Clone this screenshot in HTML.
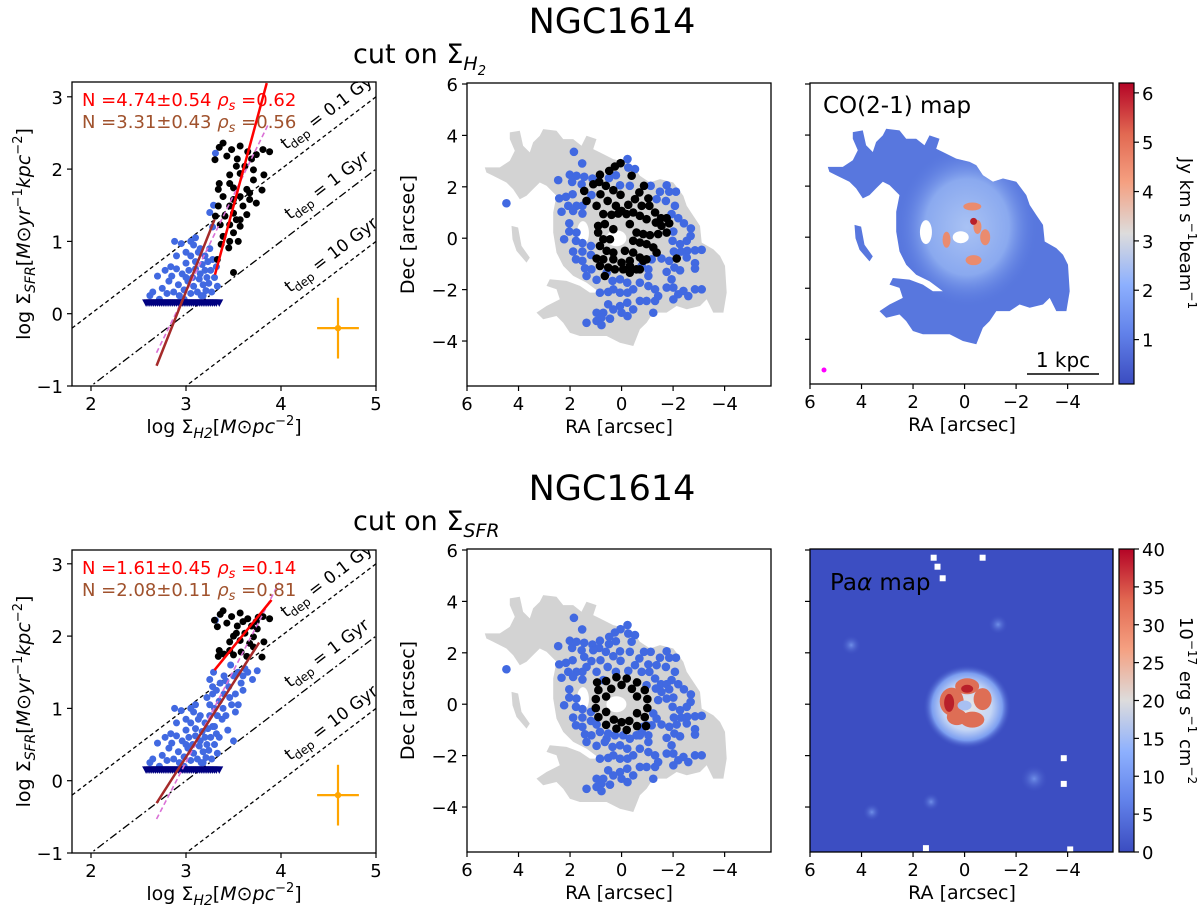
<!DOCTYPE html>
<html><head><meta charset="utf-8">
<style>
html,body{margin:0;padding:0;background:#fff;}
svg{display:block;font-family:"DejaVu Sans","Liberation Sans",sans-serif;}
</style></head>
<body>
<svg id="fig" width="1200" height="913" viewBox="0 0 1200 913" xmlns="http://www.w3.org/2000/svg">
<defs>
<linearGradient id="cw" x1="0" y1="1" x2="0" y2="0">
<stop offset="0" stop-color="#3b4cc0"/><stop offset="0.17" stop-color="#6282ea"/><stop offset="0.33" stop-color="#8db0fe"/><stop offset="0.5" stop-color="#dddcdc"/><stop offset="0.67" stop-color="#f5a081"/><stop offset="0.83" stop-color="#e26952"/><stop offset="1" stop-color="#b40426"/>
</linearGradient>
<radialGradient id="coglow" cx="0.5" cy="0.5" r="0.5">
<stop offset="0" stop-color="#a9c2f4"/><stop offset="0.6" stop-color="#8aa9ef"/><stop offset="1" stop-color="#5a7be0" stop-opacity="0"/>
</radialGradient>
<radialGradient id="paglow" cx="0.5" cy="0.5" r="0.5">
<stop offset="0" stop-color="#e8e6e4"/><stop offset="0.55" stop-color="#c5d6f5"/><stop offset="0.8" stop-color="#7c9ef0"/><stop offset="1" stop-color="#3c4ec2" stop-opacity="0"/>
</radialGradient>
<radialGradient id="pablob" cx="0.5" cy="0.5" r="0.5">
<stop offset="0" stop-color="#6f8fe8"/><stop offset="1" stop-color="#3c4ec2" stop-opacity="0"/>
</radialGradient>
<clipPath id="clipL1"><rect x="72" y="82" width="304" height="304"/></clipPath>
<clipPath id="clipL2"><rect x="72" y="550" width="304" height="303"/></clipPath>
</defs>
<g id="root"></g>
</svg>
<script>
// ---------- data ----------
const tdepLabels = ["0.1 Gyr", "1 Gyr", "10 Gyr"];
const tdepOffsets = [2, 3, 4];
const fitTop = { red:[[3.305,0.54],[3.85,3.19]], brown:[[2.69,-0.72],[3.30,1.30]], magenta:[[2.69,-0.54],[3.87,2.63]] };
const fitBot = { red:[[3.30,1.53],[3.90,2.50]], brown:[[2.69,-0.31],[3.77,1.91]], magenta:[[2.69,-0.53],[3.98,2.74]] };
const annTop = ["N =4.74±0.54 ", "N =3.31±0.43 "];
const annTopRho = ["=0.62", "=0.56"];
const annBot = ["N =1.61±0.45 ", "N =2.08±0.11 "];
const annBotRho = ["=0.14", "=0.81"];
const errBar = [4.6, -0.2, 0.22, 0.42];

const blackTop = [[3.305,2.13],[3.39,2.36],[3.35,2.3],[3.48,2.27],[3.57,2.32],[3.65,2.24],[3.74,2.2],[3.81,2.27],[3.88,2.24],[3.69,2.14],[3.54,2.14],[3.62,2.04],[3.53,2.04],[3.71,1.99],[3.46,1.92],[3.57,1.94],[3.82,1.92],[3.35,1.8],[3.46,1.8],[3.71,1.85],[3.34,1.72],[3.5,1.74],[3.64,1.72],[3.8,1.71],[3.39,1.62],[3.5,1.58],[3.57,1.62],[3.67,1.58],[3.34,1.49],[3.46,1.49],[3.6,1.49],[3.74,1.53],[3.5,1.39],[3.64,1.37],[3.31,1.35],[3.41,1.35],[3.53,1.3],[3.36,1.23],[3.46,1.23],[3.57,1.21],[3.5,1.12],[3.39,1.07],[3.46,1.0],[3.55,1.0],[3.37,0.96],[3.45,0.91],[3.33,0.75],[3.5,0.57],[3.57,1.3],[3.67,1.67],[3.43,2.18]];
const blueTop = [[2.62,0.25],[2.65,0.3],[2.7,0.52],[2.75,0.35],[2.78,0.6],[2.8,0.28],[2.82,0.45],[2.85,0.52],[2.87,0.3],[2.88,1.0],[2.9,0.62],[2.92,0.4],[2.93,0.25],[2.95,0.97],[2.96,0.55],[2.98,0.33],[3.0,0.85],[3.0,0.7],[3.02,0.45],[3.03,0.6],[3.05,0.28],[3.05,0.8],[3.07,0.5],[3.08,0.38],[3.1,0.72],[3.1,0.62],[3.12,0.3],[3.13,0.85],[3.14,0.48],[3.15,0.55],[3.16,0.25],[3.17,0.68],[3.18,0.4],[3.2,0.8],[3.2,0.6],[3.21,0.32],[3.22,0.5],[3.23,0.72],[3.24,0.42],[3.25,0.9],[3.25,1.4],[3.26,0.6],[3.27,0.3],[3.28,0.75],[3.29,1.5],[3.3,0.5],[3.31,2.22],[3.32,0.65],[3.33,0.38],[3.05,1.0],[3.1,1.05],[2.98,0.2],[3.15,0.9],[2.72,0.2],[2.9,0.8],[3.18,0.25],[3.28,1.2],[3.0,0.5],[2.84,0.65],[3.08,0.95]];
const triX = [2.58,2.6,2.62,2.64,2.66,2.68,2.7,2.72,2.74,2.76,2.78,2.8,2.82,2.84,2.86,2.88,2.9,2.92,2.94,2.96,2.98,3.0,3.02,3.04,3.06,3.08,3.1,3.12,3.14,3.16,3.18,3.2,3.22,3.24,3.26,3.28,3.3,3.32,3.35];
const triY = 0.15;
const blueBotExtra = [[3.3,1.0],[3.35,1.1],[3.4,1.2],[3.42,0.9],[3.45,1.3],[3.48,1.05],[3.5,1.45],[3.52,1.2],[3.55,1.5],[3.58,1.35],[3.6,1.45],[3.62,1.55],[3.65,1.5],[3.7,1.4],[3.75,1.52],[3.38,0.85],[3.44,0.7],[3.36,1.35],[3.32,1.25],[3.4,1.45],[3.47,1.6],[3.52,0.95],[3.3,0.75],[3.35,0.6],[3.5,0.55],[3.25,1.05],[3.22,1.15],[3.28,1.3],[3.55,1.05],[3.6,1.25],[3.46,1.15],[3.42,1.38],[3.33,0.9],[3.39,1.0]];
const blackBot = [[3.3,2.22],[3.33,2.13],[3.36,2.3],[3.39,2.35],[3.48,2.27],[3.57,2.32],[3.65,2.24],[3.74,2.2],[3.81,2.27],[3.88,2.24],[3.69,2.14],[3.54,2.14],[3.62,2.04],[3.53,2.04],[3.71,1.99],[3.46,1.92],[3.57,1.94],[3.82,1.92],[3.35,1.8],[3.46,1.8],[3.71,1.85],[3.34,1.72],[3.5,1.74],[3.64,1.72],[3.8,1.71],[3.43,2.18],[3.6,2.2],[3.76,2.26],[3.5,2.0],[3.67,1.9],[3.4,1.75],[3.58,1.78],[3.75,2.1]];

const mapBlackTop = [[0.04,2.92],[0.26,2.79],[0.48,2.62],[0.84,2.47],[1.45,1.84],[0.87,2.19],[0.61,2.04],[0.32,1.87],[0.04,1.69],[-0.39,2.43],[-0.69,1.78],[-0.87,2.04],[-1.04,1.55],[0.82,1.71],[0.54,1.45],[0.22,1.26],[0,1.06],[-0.26,1.30],[-0.52,1.52],[-0.78,1.26],[-1.08,1.26],[-1.30,1.0],[-1.53,0.78],[-1.75,0.78],[-1.85,0.58],[0.97,1.26],[0.71,0.94],[0.39,0.91],[0.13,0.96],[-0.19,0.94],[-0.45,1.0],[-0.71,0.87],[-0.97,0.74],[-1.33,0.61],[-1.55,0.48],[-1.75,0.22],[0.91,0.48],[0.65,0.55],[0.32,0.35],[-0.32,0.55],[-0.58,0.22],[-0.84,0.16],[-1.10,0.12],[-1.42,0.16],[0.91,0.22],[0.71,-0.04],[0.45,-0.04],[-0.45,-0.10],[-0.71,-0.17],[-0.97,-0.23],[-1.23,-0.36],[-1.36,-0.56],[0.84,-0.30],[0.58,-0.49],[0.32,-0.56],[-0.13,-0.49],[-0.45,-0.56],[-0.71,-0.75],[-0.97,-0.82],[0.97,-0.79],[0.71,-0.82],[0.32,-0.82],[0,-0.95],[-0.32,-1.08],[-0.58,-1.21],[-0.84,-0.88],[0.84,-1.08],[0.52,-1.14],[0.26,-1.21],[-0.06,-1.21],[-0.32,-1.34],[0.65,-1.47],[1.10,2.10],[1.36,1.45],[-2.14,-0.79],[-0.32,-0.88],[-0.71,-1.21]];
const mapBlueTop = [[1.85,3.36],[1.53,2.91],[2.46,2.26],[2.01,2.47],[1.75,2.43],[1.45,2.39],[1.13,2.32],[1.92,2.19],[1.55,2.10],[1.17,1.68],[2.42,1.55],[2.16,1.61],[1.90,1.71],[1.75,1.26],[2.07,1.26],[1.52,1.26],[2.33,1.03],[1.88,1.06],[1.52,0.96],[0.49,2.34],[0.22,2.45],[-0.26,2.75],[-0.52,2.69],[-0.23,3.08],[0.06,2.06],[-0.32,2.04],[-1.13,2.04],[-1.75,2.06],[-1.49,1.81],[-1.85,1.81],[-2.11,1.81],[-1.72,1.45],[-1.36,1.52],[-2.07,1.26],[-1.94,0.94],[-2.20,0.78],[-2.42,0.58],[-2.69,0.38],[-2.68,0.09],[-2.53,-0.10],[-3.11,-0.45],[-2.85,-0.47],[-2.55,-0.49],[-2.31,-0.52],[-2.03,-0.52],[-2.27,-0.23],[-1.98,-0.10],[-2.01,0.26],[2.03,0.58],[2.03,0.26],[1.75,0.22],[1.77,-0.10],[1.52,-0.19],[1.19,-0.30],[2.23,-0.04],[1.88,-0.52],[1.52,-0.52],[1.19,-0.65],[1.77,-0.82],[1.52,-0.88],[1.17,-1.21],[1.42,-1.17],[1.36,-1.47],[0.97,-1.62],[0.84,-2.12],[0.52,-2.09],[0.58,-1.34],[0.35,-1.66],[0.06,-1.60],[-0.22,-1.73],[0.06,-2.12],[0.32,-1.99],[-0.23,-2.12],[-0.45,-1.99],[-0.71,-1.73],[-1.04,-1.86],[-1.30,-1.99],[-1.04,-1.47],[-1.04,-1.21],[-1.17,-0.82],[-1.55,-0.79],[-1.85,-0.88],[-1.75,-1.31],[-2.05,-1.14],[-2.27,-1.25],[-1.94,-1.60],[-1.75,-1.92],[-2.01,-1.92],[-2.20,-2.18],[-2.40,-2.05],[-2.59,-2.25],[-2.85,-1.99],[-3.11,-1.99],[-2.85,-0.97],[-2.53,-0.75],[-2.85,-1.18],[-0.97,-2.44],[-0.71,-2.44],[-0.45,-2.77],[-0.22,-2.51],[0.06,-2.64],[0,-2.90],[-0.23,-3.03],[0.32,-2.77],[0.52,-2.57],[0.71,-2.90],[0.97,-2.90],[0.78,-3.09],[0.97,-3.22],[0.78,-3.38],[0.45,-3.13],[1.36,-3.29],[-1.23,-2.90],[-1.30,-2.44],[4.47,1.36],[-0.78,-1.08],[-2.01,-2.38],[-1.42,-2.25]];
const mapBlackBot = [[0.6,0.9],[0.2,1.05],[-0.2,1.0],[-0.6,0.85],[0.9,0.55],[-0.9,0.55],[1.0,0.2],[-1.0,0.2],[1.0,-0.15],[-1.0,-0.15],[0.9,-0.5],[-0.9,-0.5],[0.6,-0.8],[0.2,-0.95],[-0.2,-1.0],[-0.6,-0.85],[0.4,0.6],[-0.4,0.6],[0.6,0.3],[-0.6,0.3],[0.6,-0.3],[-0.6,-0.35],[0.3,-0.6],[-0.3,-0.65],[0.0,0.75],[0.0,-0.7],[0.95,0.85],[-0.95,-0.85]];

const xTicksL = [2,3,4,5];
const yTicksL = [-1,0,1,2,3];
const raTicks = [6,4,2,0,-2,-4];
const decTicks = [-4,-2,0,2,4,6];
const coTicks = [1,2,3,4,5,6];
const paTicks = [0,5,10,15,20,25,30,35,40];

// footprint outline (zoom pixel frame), converted to RA/Dec below
const footprintZ = [[430,210],[470,215],[490,240],[520,240],[545,260],[560,230],[590,240],[580,270],[600,280],[640,300],[680,310],[700,320],[720,350],[750,370],[780,360],[820,370],[850,410],[860,440],[880,470],[900,500],[905,550],[940,570],[960,590],[975,620],[980,700],[970,760],[940,760],[920,720],[900,740],[860,750],[830,740],[800,760],[760,760],[740,790],[720,810],[700,860],[660,850],[620,830],[580,830],[540,830],[510,820],[490,790],[470,770],[430,780],[410,760],[440,740],[480,720],[470,690],[440,680],[450,660],[500,665],[540,680],[570,700],[600,700],[560,670],[520,650],[490,620],[470,580],[460,520],[460,460],[470,410],[440,380],[420,370],[400,390],[380,410],[360,420],[340,390],[320,370],[280,350],[260,340],[255,325],[300,325],[330,305],[345,275],[330,240],[330,220],[360,215],[370,260],[390,280],[400,250],[420,230]];
const armZ = [[335,500],[355,505],[365,560],[390,595],[380,610],[350,575],[338,540]];
const footprint = footprintZ.map(p => [(665 - p[0]) / 77.2, (537 - p[1]) / 77]);
const footprintArm = armZ.map(p => [(665 - p[0]) / 77.2, (537 - p[1]) / 77]);

// ---------- helpers ----------
const NS = "http://www.w3.org/2000/svg";
const root = document.getElementById('root');
function mk(tag, attrs, parent, name, inter) {
  const e = document.createElementNS(NS, tag);
  for (const k in attrs) e.setAttribute(k, attrs[k]);
  
  
  (parent || root).appendChild(e);
  return e;
}
function txt(x, y, s, size, parent, name, extra) {
  const a = Object.assign({x:x, y:y, 'font-size':size, fill:'#000'}, extra || {});
  const t = mk('text', a, parent, name, false);
  t.innerHTML = s;
  return t;
}
function linScale(d0, d1, r0, r1) { return v => r0 + (v - d0) / (d1 - d0) * (r1 - r0); }

// ---------- titles ----------
txt(612, 33, 'NGC1614', 35, root, 'title-top', {'text-anchor':'middle'});
txt(353, 63, 'cut on Σ<tspan font-style="italic" font-size="19" dy="7">H<tspan font-size="13" dy="5">2</tspan></tspan>', 27, root, 'subtitle-top');
txt(612, 500, 'NGC1614', 35, root, 'title-bottom', {'text-anchor':'middle'});
txt(353, 530, 'cut on Σ<tspan font-style="italic" font-size="19" dy="7">SFR</tspan>', 27, root, 'subtitle-bottom');

// ---------- KS scatter panels ----------
function ksPanel(top, bottom, clipId, blue, black, fit, ann, annRho, tag) {
  const g = mk('g', {}, root, 'ks-panel-' + tag, false);
  const sx = linScale(1.8, 5, 72, 376);
  const sy = linScale(-1, 3, bottom, bottom - 4 * 72.3);
  const cg = mk('g', {'clip-path':'url(#' + clipId + ')'}, g, 'plot-area', false);
  tdepOffsets.forEach((o, i) => {
    mk('line', {x1:sx(1.8), y1:sy(1.8 - o), x2:sx(5), y2:sy(5 - o), stroke:'#000', 'stroke-width':1.3,
      'stroke-dasharray': i === 1 ? '8,3,2,3' : '4,3'}, cg, 'tdep-line-' + i, false);
  });
  const ang = -Math.atan(72.3 / 95) * 180 / Math.PI;
  const labPos = [[286, top + 68], [290, top + 138], [290, top + 211]];
  tdepLabels.forEach((s, i) => {
    txt(labPos[i][0], labPos[i][1], 't<tspan font-size="12" dy="4">dep</tspan><tspan dy="-4"> = ' + s + '</tspan>', 17, cg, 'tdep-label-' + i,
      {transform:'rotate(' + ang + ' ' + labPos[i][0] + ' ' + labPos[i][1] + ')'});
  });
  blue.forEach(p => mk('circle', {cx:sx(p[0]), cy:sy(p[1]), r:3.5, fill:'#4169e1'}, cg, 'point-blue', false));
  triX.forEach(x => {
    const cx = sx(x), cy = sy(triY);
    mk('path', {d:`M${cx-4},${cy-3.5}L${cx+4},${cy-3.5}L${cx},${cy+4}Z`, fill:'#000080'}, cg, 'upper-limit-marker', false);
  });
  black.forEach(p => mk('circle', {cx:sx(p[0]), cy:sy(p[1]), r:3.5, fill:'#000'}, cg, 'point-black', false));
  mk('line', {x1:sx(fit.magenta[0][0]), y1:sy(fit.magenta[0][1]), x2:sx(fit.magenta[1][0]), y2:sy(fit.magenta[1][1]), stroke:'#da70d6', 'stroke-width':1.6, 'stroke-dasharray':'5,3'}, cg, 'fit-line-magenta', false);
  mk('line', {x1:sx(fit.brown[0][0]), y1:sy(fit.brown[0][1]), x2:sx(fit.brown[1][0]), y2:sy(fit.brown[1][1]), stroke:'#a52a2a', 'stroke-width':2.5}, cg, 'fit-line-brown', false);
  mk('line', {x1:sx(fit.red[0][0]), y1:sy(fit.red[0][1]), x2:sx(fit.red[1][0]), y2:sy(fit.red[1][1]), stroke:'#ff0000', 'stroke-width':2.5}, cg, 'fit-line-red', false);
  const ex = sx(errBar[0]), ey = sy(errBar[1]);
  mk('line', {x1:sx(errBar[0]-errBar[2]), y1:ey, x2:sx(errBar[0]+errBar[2]), y2:ey, stroke:'#ffa500', 'stroke-width':2.2}, g, 'error-bar-x', false);
  mk('line', {x1:ex, y1:sy(errBar[1]-errBar[3]), x2:ex, y2:sy(errBar[1]+errBar[3]), stroke:'#ffa500', 'stroke-width':2.2}, g, 'error-bar-y', false);
  mk('circle', {cx:ex, cy:ey, r:3.2, fill:'#ffa500'}, g, 'error-bar-point', false);
  txt(82, top + 24, ann[0] + '<tspan font-style="italic">ρ</tspan><tspan font-size="13" dy="4" font-style="italic">s</tspan><tspan dy="-4"> ' + annRho[0] + '</tspan>', 18, g, 'annotation-red', {fill:'#ff0000'});
  txt(82, top + 46, ann[1] + '<tspan font-style="italic">ρ</tspan><tspan font-size="13" dy="4" font-style="italic">s</tspan><tspan dy="-4"> ' + annRho[1] + '</tspan>', 18, g, 'annotation-brown', {fill:'#a0522d'});
  mk('rect', {x:72, y:top, width:304, height:bottom - top, fill:'none', stroke:'#000', 'stroke-width':1.3}, g, 'axes-frame', false);
  xTicksL.forEach(v => {
    mk('line', {x1:sx(v), y1:bottom, x2:sx(v), y2:bottom + 5, stroke:'#000', 'stroke-width':1.2}, g, 'x-tick', false);
    txt(sx(v), bottom + 24, String(v), 18, g, 'x-tick-label', {'text-anchor':'middle'});
  });
  yTicksL.forEach(v => {
    mk('line', {x1:67, y1:sy(v), x2:72, y2:sy(v), stroke:'#000', 'stroke-width':1.2}, g, 'y-tick', false);
    txt(63, sy(v) + 7, v < 0 ? '−' + Math.abs(v) : String(v), 18, g, 'y-tick-label', {'text-anchor':'end'});
  });
  txt(224, bottom + 47, 'log Σ<tspan font-style="italic" font-size="14" dy="5">H2</tspan><tspan dy="-5">[<tspan font-style="italic">M</tspan>⊙<tspan font-style="italic">pc</tspan><tspan font-size="13" dy="-8">−2</tspan><tspan dy="8">]</tspan></tspan>', 19, g, 'x-axis-title', {'text-anchor':'middle'});
  const cy = (top + bottom) / 2;
  txt(0, 0, 'log Σ<tspan font-style="italic" font-size="14" dy="5">SFR</tspan><tspan dy="-5">[<tspan font-style="italic">M</tspan>⊙<tspan font-style="italic">yr</tspan><tspan font-size="13" dy="-8">−1</tspan><tspan dy="8" font-style="italic">kpc</tspan><tspan font-size="13" dy="-8">−2</tspan><tspan dy="8">]</tspan></tspan>', 19, g, 'y-axis-title', {'text-anchor':'middle', transform:'translate(30 ' + cy + ') rotate(-90)'});
}
ksPanel(82, 386, 'clipL1', blueTop, blackTop, fitTop, annTop, annTopRho, 'top');
ksPanel(550, 853, 'clipL2', blueTop.concat(blueBotExtra), blackBot, fitBot, annBot, annBotRho, 'bottom');

// ---------- spatial axes ----------
function spatialAxes(g, x0, top, showDecLabels, bottom) {
  const sx = linScale(6, -5.8, x0, x0 + 304);
  const sy = linScale(6, -5.75, top + 1, bottom);
  raTicks.forEach(v => {
    mk('line', {x1:sx(v), y1:bottom, x2:sx(v), y2:bottom + 5, stroke:'#000', 'stroke-width':1.2}, g, 'x-tick', false);
    txt(sx(v), bottom + 24, v < 0 ? '−' + Math.abs(v) : String(v), 18, g, 'x-tick-label', {'text-anchor':'middle'});
  });
  decTicks.forEach(v => {
    mk('line', {x1:x0 - 5, y1:sy(v), x2:x0, y2:sy(v), stroke:'#000', 'stroke-width':1.2}, g, 'y-tick', false);
    if (showDecLabels) txt(x0 - 9, sy(v) + 7, v < 0 ? '−' + Math.abs(v) : String(v), 18, g, 'y-tick-label', {'text-anchor':'end'});
  });
  txt(x0 + 152, bottom + 47, 'RA [arcsec]', 19, g, 'x-axis-title', {'text-anchor':'middle'});
  if (showDecLabels) txt(0, 0, 'Dec [arcsec]', 19, g, 'y-axis-title', {'text-anchor':'middle', transform:'translate(' + (x0 - 53) + ' ' + ((top + bottom) / 2) + ') rotate(-90)'});
  return [sx, sy];
}
function polyPath(pts, sx, sy) { return 'M' + pts.map(p => sx(p[0]).toFixed(1) + ',' + sy(p[1]).toFixed(1)).join('L') + 'Z'; }

function mapPanel(top, bottom, blue, black, tag) {
  const g = mk('g', {}, root, 'map-panel-' + tag, false);
  const [sx, sy] = spatialAxes(g, 467, top, true, bottom);
  mk('path', {d:polyPath(footprint, sx, sy), fill:'#d3d3d3'}, g, 'gas-footprint', false);
  mk('path', {d:polyPath(footprintArm, sx, sy), fill:'#d3d3d3'}, g, 'gas-footprint-arm', false);
  mk('ellipse', {cx:sx(0.2), cy:sy(0), rx:10, ry:8, fill:'#fff'}, g, 'central-hole', false);
  mk('ellipse', {cx:sx(1.5), cy:sy(0.2), rx:6, ry:12, fill:'#fff'}, g, 'gap-hole', false);
  blue.forEach(p => mk('circle', {cx:sx(p[0]), cy:sy(p[1]), r:4.3, fill:'#4169e1'}, g, 'region-blue', false));
  black.forEach(p => mk('circle', {cx:sx(p[0]), cy:sy(p[1]), r:4.3, fill:'#000'}, g, 'region-black', false));
  mk('rect', {x:467, y:top, width:304, height:bottom - top, fill:'none', stroke:'#000', 'stroke-width':1.3}, g, 'axes-frame', false);
}
mapPanel(83, 386, mapBlueTop, mapBlackTop, 'top');
const blueBot = mapBlueTop.concat(mapBlackTop.filter(p => Math.hypot(p[0], p[1]) > 1.15));
mapPanel(549, 852, blueBot, mapBlackBot, 'bottom');

// ---------- colorbar ----------
function colorbar(top, bottom, ticks, vmin, vmax, label, tag) {
  const g = mk('g', {}, root, 'colorbar-' + tag, false);
  const sy = linScale(vmin, vmax, bottom, top);
  mk('rect', {x:1119, y:top, width:15, height:bottom - top, fill:'url(#cw)', stroke:'#000', 'stroke-width':1.2}, g, 'colorbar-gradient', false);
  ticks.forEach(v => {
    mk('line', {x1:1134, y1:sy(v), x2:1139, y2:sy(v), stroke:'#000', 'stroke-width':1.2}, g, 'colorbar-tick', false);
    txt(1142, sy(v) + 7, String(v), 18, g, 'colorbar-tick-label');
  });
  txt(0, 0, label, 18, g, 'colorbar-title', {'text-anchor':'middle', transform:'translate(1180 ' + ((top + bottom) / 2) + ') rotate(90)'});
}

// CO map
(function(){
  const g = mk('g', {}, root, 'co-map-panel', false);
  const [sx, sy] = spatialAxes(g, 810, 83, false, 384);
  const cp = mk('clipPath', {id:'coclip'}, g, 'co-clip', false);
  mk('path', {d:polyPath(footprint, sx, sy)}, cp, 'co-clip-shape', false);
  mk('path', {d:polyPath(footprint, sx, sy), fill:'#5877de'}, g, 'co-emission', false);
  mk('path', {d:polyPath(footprintArm, sx, sy), fill:'#5877de'}, g, 'co-emission-arm', false);
  mk('ellipse', {cx:sx(-0.1), cy:sy(0.4), rx:70, ry:80, fill:'url(#coglow)', 'clip-path':'url(#coclip)'}, g, 'co-glow', false);
  mk('ellipse', {cx:sx(1.5), cy:sy(0.2), rx:6, ry:12, fill:'#fff'}, g, 'co-gap', false);
  [[-0.3,1.2,9,4],[-0.35,-0.9,8,5],[0.7,-0.1,4,8],[-0.8,0,5,8],[-0.5,0.4,4,7]].forEach(b => mk('ellipse', {cx:sx(b[0]), cy:sy(b[1]), rx:b[2], ry:b[3], fill:'#ea8b6e'}, g, 'co-peak', false));
  mk('circle', {cx:sx(-0.35), cy:sy(0.62), r:3.5, fill:'#b8202a'}, g, 'co-max', false);
  mk('ellipse', {cx:sx(0.15), cy:sy(0), rx:8, ry:6, fill:'#fff'}, g, 'co-hole', false);
  mk('circle', {cx:824, cy:370, r:2.5, fill:'#ff00ff'}, g, 'beam-marker', false);
  txt(823, 113, 'CO(2-1) map', 23, g, 'map-label');
  mk('line', {x1:1027, y1:374, x2:1099, y2:374, stroke:'#000', 'stroke-width':1.5}, g, 'scale-bar', false);
  txt(1063, 367, '1 kpc', 20, g, 'scale-bar-label', {'text-anchor':'middle'});
  mk('rect', {x:810, y:83, width:303, height:301, fill:'none', stroke:'#000', 'stroke-width':1.3}, g, 'axes-frame', false);
})();
colorbar(83, 384, coTicks, 0.1, 6.2, 'Jy km s<tspan font-size="12" dy="-8">−1</tspan><tspan dy="8">beam</tspan><tspan font-size="12" dy="-8">−1</tspan>', 'co');

// Pa-alpha map
(function(){
  const g = mk('g', {}, root, 'pa-map-panel', false);
  const [sx, sy] = spatialAxes(g, 810, 549, false, 852);
  mk('rect', {x:810, y:549, width:303, height:303, fill:'#3c4ec2'}, g, 'pa-background', false);
  [[4.4,2.3,10],[-1.3,3.1,10],[-2.7,-2.9,14],[1.3,-3.8,9],[3.6,-4.2,9]].forEach(b => mk('circle', {cx:sx(b[0]), cy:sy(b[1]), r:b[2], fill:'url(#pablob)'}, g, 'pa-knot', false));
  mk('ellipse', {cx:sx(-0.1), cy:sy(-0.1), rx:44, ry:42, fill:'url(#paglow)'}, g, 'pa-glow', false);
  [[0.5,0.1,12,14],[-0.1,0.7,12,8],[-0.7,0.2,9,11],[-0.3,-0.6,12,8],[0.3,-0.5,10,8]].forEach(b => mk('ellipse', {cx:sx(b[0]), cy:sy(b[1]), rx:b[2], ry:b[3], fill:'#de6e55'}, g, 'pa-ring-part', false));
  mk('ellipse', {cx:sx(0.6), cy:sy(0.05), rx:5, ry:9, fill:'#b8202a'}, g, 'pa-peak', false);
  mk('ellipse', {cx:sx(-0.1), cy:sy(0.6), rx:6, ry:4, fill:'#b8202a'}, g, 'pa-peak', false);
  mk('ellipse', {cx:sx(0), cy:sy(-0.05), rx:7, ry:5, fill:'#a8c0f2'}, g, 'pa-center', false);
  [[1.2,5.7],[1.05,5.35],[-0.7,5.7],[0.85,4.9],[-3.85,-2.1],[-3.85,-3.1],[1.5,-5.6],[-4.1,-5.65]].forEach(p => mk('rect', {x:sx(p[0]) - 3, y:sy(p[1]) - 3, width:6, height:6, fill:'#fff'}, g, 'masked-pixel', false));
  txt(830, 590, 'Pa<tspan font-style="italic">α</tspan> map', 23, g, 'map-label');
  mk('rect', {x:810, y:549, width:303, height:303, fill:'none', stroke:'#000', 'stroke-width':1.3}, g, 'axes-frame', false);
})();
colorbar(549, 852, paTicks, 0, 40, '10<tspan font-size="12" dy="-8">−17</tspan><tspan dy="8"> erg s</tspan><tspan font-size="12" dy="-8">−1</tspan><tspan dy="8"> cm</tspan><tspan font-size="12" dy="-8">−2</tspan>', 'pa');
</script>
</body></html>
